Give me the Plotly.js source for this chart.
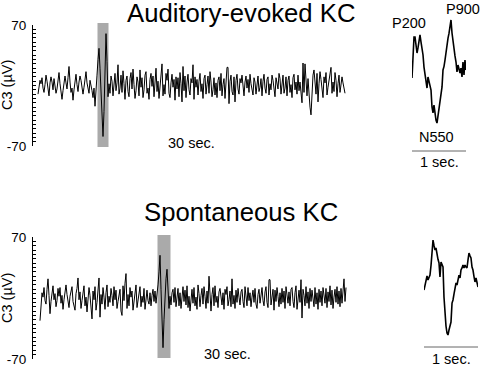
<!DOCTYPE html>
<html>
<head>
<meta charset="utf-8">
<script src="https://cdn.plot.ly/plotly-3.0.1.min.js"></script>
<style>html,body{margin:0;padding:0;background:#fff}#chart{width:480px;height:366px}</style>
</head>
<body>
<div id="chart"></div>
<script>
// ---- data ----
const titles = ["Auditory-evoked KC", "Spontaneous KC"];
const yLabel = "C3 (µV)";
const yTickVals = [-70, 70];
const timeLabel = "30 sec.";
const insetScaleLabel = "1 sec.";
const insetScaleSec = 1;
const peakLabels = ["P200", "N550", "P900"];

// auditory-evoked trace (µV), one sample per step
const topTrace = [
 -10, -4, 6, 2, 9, -3, -8, 1, 12, 5,
 -6, -12, 3, 10, 4, -5, 8, -2, -9, -4,
 7, 15, 2, -7, -16, -6, 5, 11, 3, -4,
 9, 22, 4, -8, -3, -17, -5, 8, 13, 1,
 -7, 4, 11, 6, -4, -10, -2, 9, 16, 3,
 -5, -9, 6, 1, -6, -14, -3, -24, -10, 12,
 30, 43, 20, -8, -38, -59, -30, 12, 60, 28, -13,
 2, -9, 11, 5, -12, 8, 14, -6, 3,
 24, -10, -3, 12, -8, 17, 2, -16, 6, 11,
 -7, -13, 8, 15, -4, 19, 1, -15, -6, 10,
 4, -12, 18, -2, 9, -14, -5, 12, 16, -9,
 -3, -16, 7, 14, -1, 11, -13, 2, 20, -7,
 5, -15, -4, 8, 25, -12, 1, -10, 14, 6,
 19, -9, -14, 3, 13, -2, 7, -17, 10, -4,
 9, -13, 15, 2, -19, 22, -6, 11, -14, 4,
 13, -5, -11, 8, 3, 24, -16, 10, -2, 7,
 -11, 5, 14, -7, 2, -15, 8, 12, -10, 1,
 11, -9, 16, 4, -13, -5, 9, -11, 3, -14,
 6, 10, -6, 14, -12, 1, 8, -15, 9, 21,
 21, -21, 5, 12, -7, -11, 10, -19, 6, 13,
 -4, -10, 8, 3, 12, -6, -12, 4, 11, -3,
 7, -8, 13, 2, -5, -11, 9, 4, -10, 6,
 11, -7, -2, 8, -12, 5, 13, -3, -9, 7,
 10, -11, 2, -5, 12, 6, -8, -13, 9, 3,
 -4, 14, 8, -10, 2, 12, -9, -3, 10, -12,
 6, 11, -8, 1, -14, 9, 13, -5, 4, -10,
 12, -6, 4, -12, -20, 26, -8, 25, 10, -12,
 8, -15, -25, -34, -10, 12, 18, 5, -10, 14,
 -19, 2, 16, 7, -8, -14, 10, 3, 15, -11,
 -2, 8, 13, 21, -9, 4, -7, 15, 6, -13,
 2, 12, -8, 4, 10, 3, -5, -9
];
// spontaneous trace (µV)
const bottomTrace = [
 -26, -8, 6, 1, 12, -3, -7, 10, 22, 3,
 -18, -4, 9, 14, -2, 5, -10, -3, 11, 2,
 12, -6, 3, -13, -2, 10, 15, 4, -6, -11,
 2, 8, 13, -4, -9, -14, 5, 11, 23, -2,
 7, -12, -3, 10, 14, -9, 1, -16, 6, 12,
 3, -11, -24, 8, -2, 13, -14, -5, 9, 23,
 -22, 4, -7, 12, 1, -13, 6, 15, -10, 2,
 -5, 11, 3, -9, 13, -2, 9, -12, -4, 7,
 10, -15, -20, 14, -3, 17, 28, -12, 4, -9,
 12, 1, 8, -14, -4, 10, 15, -11, -2, 6,
 13, -10, 2, -5, 11, -13, 4, 9, -3, -7,
 6, -9, 3, 10, -4, 8, -6, 3,
 15, 30, 49, 10, -30, -57, -25, 8, 22, 33, 10, -12, 2,
 -8, 6, 10, -5, 12, -10, 2, 11, -9,
 6, -12, 3, 13, -4, 9, -8, 14, -11, 2,
 -15, 4, 10, -6, 12, -9, 1, -13, 15, 5,
 -10, 3, 11, -7, 13, 2, -12, 8, -6, 25,
 -6, -15, 4, 12, -9, 14, -5, 2, -11, 7,
 11, -3, -8, 6, -13, 10, 4, 13, -9, -2,
 8, -10, 22, -7, 3, -12, 9, -5, 11, 1,
 -8, 7, 10, -4, -11, 13, 2, -9, 12, -3,
 6, -10, 1, 9, -5, 11, -7, -12, 4, 10,
 -6, 8, 12, -3, -9, 7, 13, -5, -11, 21,
 21, -8, 3, 10, -14, 9, -4, 12, 2, -10,
 6, -7, 11, -5, 8, -12, 13, 1, -6, 7,
 -9, 10, 12, -4, -11, 6, 14, -13, 2, 9,
 -5, 21, -23, 10, 3, -9, 13, -6, 7, -12,
 11, -4, 9, 2, -10, 12, -7, 6, -13, 10,
 -5, 8, -9, 12, 3, -6, 11, -11, 7, -4,
 14, -8, 9, -12, 1, 10, -5, 13, -7, 8,
 -10, 11, -6, 9, 22, -4, 12
];
// highlighted KC windows (sample index)
const topKCWindow = [59.5, 70.5];
const bottomKCWindow = [117.5, 130.5];

// zoomed KC waveforms: time (s) and µV
const topInsetT = [0, .037, .056, .074, .093, .111, .13, .148, .167, .185, .204, .222, .241, .259, .278, .296, .315, .333, .352, .37, .389, .407, .426, .444, .463, .481, .5, .519, .537, .556, .574, .593, .611, .63, .648, .667, .685, .704, .722, .741, .759, .778, .796, .815, .833, .852, .87, .889, .907, .926, .944, .963, .981, 1];
const topInsetV = [-3.5, 43.8, 43.8, 30, 25.4, 31.2, 38, 46.2, 38, 32.3, 23.1, 9.2, 2, -5.8, -15, -2.3, -8.1, -12, -17.3, -36.9, -43.8, -34.6, -45, -51.9, -55.4, -48, -40.4, -28.8, -20, -13.8, 5.8, 10, 17.3, 28, 36.9, 42.7, 48, 55.4, 63.5, 48.5, 38, 28.8, 22, 15, 3.5, 11.5, 6, 2.3, 8, -2.3, 15, 0, 17.3, 5.8];
const bottomInsetT = [0, .037, .056, .074, .093, .111, .13, .148, .167, .185, .204, .222, .241, .259, .278, .296, .315, .333, .352, .37, .389, .407, .426, .444, .463, .481, .5, .519, .537, .556, .574, .593, .611, .63, .648, .667, .685, .704, .722, .741, .759, .778, .796, .815, .833, .852, .87, .889, .907, .926, .944, .963, .981, 1];
const bottomInsetV = [-3.5, 10.4, 12.7, 8.1, 11, 13.8, 25, 36.9, 54.2, 48, 42.7, 45, 36.9, 32, 27.7, 11.5, 28.8, 26, 23.1, -11.5, -34.6, -45, -53.1, -55.4, -49.6, -45, -40.4, -18.5, -15, -8, -3.5, 4.6, 2.3, 8, 13.8, 10.4, 19.6, 22, 25.4, 21.9, 25.4, 23, 21.9, 31.2, 39.2, 36, 33.5, 23.1, 19.6, 12, 5.8, 10.4, 2.3, 0];

// ---- layout helpers ----
const W = 480, H = 366;
const px = v => v / W;
const py = v => 1 - v / H;
const font = "Arial, 'Liberation Sans', sans-serif";
const idx = arr => arr.map((_, i) => i);
const small = 14.5;

const traces = [
  {x: idx(topTrace), y: topTrace, xaxis: 'x', yaxis: 'y', type: 'scatter', mode: 'lines',
   line: {color: '#000', width: 1}, hoverinfo: 'skip'},
  {x: idx(bottomTrace), y: bottomTrace, xaxis: 'x2', yaxis: 'y2', type: 'scatter', mode: 'lines',
   line: {color: '#000', width: 1}, hoverinfo: 'skip'},
  {x: topInsetT, y: topInsetV, xaxis: 'x3', yaxis: 'y3', type: 'scatter', mode: 'lines',
   line: {color: '#000', width: 1.6}, hoverinfo: 'skip'},
  {x: bottomInsetT, y: bottomInsetV, xaxis: 'x4', yaxis: 'y4', type: 'scatter', mode: 'lines',
   line: {color: '#000', width: 1.6}, hoverinfo: 'skip'}
];

const hidden = {visible: false, showgrid: false, zeroline: false, fixedrange: true};
const yMain = (dom, anchor) => ({
  domain: dom, anchor: anchor, range: [-70, 70], showgrid: false, zeroline: false,
  showline: true, linecolor: '#000', linewidth: 1,
  ticks: 'inside', ticklen: 4, tickwidth: 1, tickcolor: '#000',
  tickmode: 'array', tickvals: yTickVals, ticktext: yTickVals.map(String),
  ticklabelstandoff: 3, ticklabeloverflow: 'allow',
  tickfont: {family: font, size: 13.5, color: '#000'},
  minor: {tickmode: 'linear', tick0: 0, dtick: 5, ticks: 'inside', ticklen: 3, tickwidth: 1, tickcolor: '#000', showgrid: false}
});

const ann = (text, x, y, size, extra) => Object.assign({
  text: text, xref: 'paper', yref: 'paper', x: px(x), y: py(y), showarrow: false,
  xanchor: 'center', yanchor: 'middle', font: {size: size, family: font, color: '#000'}
}, extra || {});

const layout = {
  width: W, height: H, margin: {l: 0, r: 0, t: 0, b: 0},
  paper_bgcolor: '#fff', plot_bgcolor: 'rgba(0,0,0,0)', showlegend: false,
  font: {family: font, color: '#000'},
  xaxis: Object.assign({}, hidden, {domain: [px(33), px(347)], range: [-5, 309], anchor: 'y'}),
  yaxis: yMain([py(146), py(25)], 'x'),
  xaxis2: Object.assign({}, hidden, {domain: [px(33), px(347)], range: [-7, 307], anchor: 'y2'}),
  yaxis2: yMain([py(359), py(237)], 'x2'),
  xaxis3: Object.assign({}, hidden, {domain: [px(412), px(466)], range: [0, 1], anchor: 'y3'}),
  yaxis3: Object.assign({}, hidden, {domain: [py(170), py(5)], range: [-109.6, 80.8], anchor: 'x3'}),
  xaxis4: Object.assign({}, hidden, {domain: [px(424), px(478)], range: [0, 1], anchor: 'y4'}),
  yaxis4: Object.assign({}, hidden, {domain: [py(352), py(222)], range: [-75, 75], anchor: 'x4'}),
  shapes: [
    {type: 'rect', layer: 'below', xref: 'x', yref: 'paper', x0: topKCWindow[0], x1: topKCWindow[1],
     y0: py(147), y1: py(23), fillcolor: '#aaaaaa', line: {width: 0}},
    {type: 'rect', layer: 'below', xref: 'x2', yref: 'paper', x0: bottomKCWindow[0], x1: bottomKCWindow[1],
     y0: py(358), y1: py(235), fillcolor: '#aaaaaa', line: {width: 0}},
    {type: 'line', xref: 'x3', yref: 'paper', x0: 0, x1: insetScaleSec, y0: py(151), y1: py(151),
     line: {color: '#666', width: 1}},
    {type: 'line', xref: 'x4', yref: 'paper', x0: 0, x1: insetScaleSec, y0: py(347), y1: py(347),
     line: {color: '#666', width: 1}}
  ],
  annotations: [
    ann(titles[0], 241, 13, 25.7),
    ann(titles[1], 241, 212, 25.7),
    ann(yLabel, 7, 85, small, {textangle: -90}),
    ann(yLabel, 7, 298, small, {textangle: -90}),
    ann(timeLabel, 191, 143, small),
    ann(timeLabel, 227, 354, small),
    ann(peakLabels[0], 409, 23, small),
    ann(peakLabels[1], 436, 137, small),
    ann(peakLabels[2], 463, 9, small),
    ann(insetScaleLabel, 439, 162, small),
    ann(insetScaleLabel, 451, 359, small)
  ]
};

Plotly.newPlot('chart', traces, layout, {staticPlot: true, displayModeBar: false});
</script>
</body>
</html>
